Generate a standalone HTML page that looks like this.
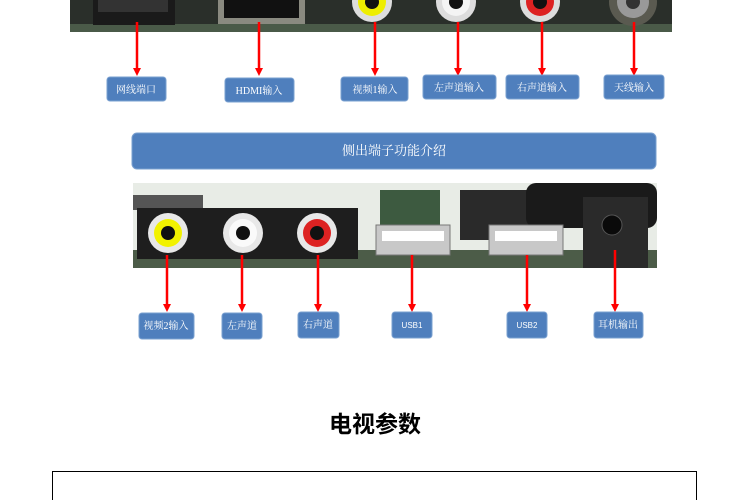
<!DOCTYPE html>
<html><head><meta charset="utf-8"><style>
body{margin:0;background:#fff;}
svg{display:block;}
text{font-family:"Liberation Serif","Noto Serif CJK SC",serif;fill:#fff;font-size:10px;text-anchor:middle;}
</style></head><body>
<svg width="750" height="500" viewBox="0 0 750 500" xmlns="http://www.w3.org/2000/svg">
<defs>
<marker id="ah" markerWidth="8" markerHeight="8" refX="4" refY="4" orient="auto" markerUnits="userSpaceOnUse">
<path d="M0,0 L8,4 L0,8 Z" fill="#f00"/></marker>
</defs>
<rect x="70" y="0" width="602" height="32" fill="#2a2f2a"/>
<rect x="70" y="24" width="602" height="8" fill="#4a5a48"/>
<rect x="93" y="0" width="82" height="25" fill="#1a1a1a"/>
<rect x="98" y="0" width="70" height="12" fill="#333"/>
<rect x="218" y="0" width="87" height="24" fill="#8a8a80"/>
<rect x="224" y="0" width="75" height="18" fill="#111"/>
<circle cx="372" cy="2" r="20" fill="#ddd"/><circle cx="372" cy="2" r="14" fill="#ee0"/><circle cx="372" cy="2" r="7" fill="#111"/>
<circle cx="456" cy="2" r="20" fill="#ddd"/><circle cx="456" cy="2" r="14" fill="#f4f4f4"/><circle cx="456" cy="2" r="7" fill="#111"/>
<circle cx="540" cy="2" r="20" fill="#ddd"/><circle cx="540" cy="2" r="14" fill="#d22"/><circle cx="540" cy="2" r="7" fill="#111"/>
<circle cx="633" cy="2" r="24" fill="#5a5a50"/><circle cx="633" cy="2" r="16" fill="#999"/><circle cx="633" cy="2" r="7" fill="#333"/>
<g stroke="#f00" stroke-width="2.5" marker-end="url(#ah)">
<line x1="137" y1="22" x2="137" y2="72"/><line x1="259" y1="22" x2="259" y2="72"/>
<line x1="375" y1="22" x2="375" y2="72"/><line x1="458" y1="22" x2="458" y2="72"/>
<line x1="542" y1="22" x2="542" y2="72"/><line x1="634" y1="22" x2="634" y2="72"/>
</g>
<g fill="#4f7fbd" stroke="#7aa0d0" stroke-width="1">
<rect x="107" y="77" width="59" height="24" rx="3"/>
<rect x="225" y="78" width="69" height="24" rx="3"/>
<rect x="341" y="77" width="67" height="24" rx="3"/>
<rect x="423" y="75" width="73" height="24" rx="3"/>
<rect x="506" y="75" width="73" height="24" rx="3"/>
<rect x="604" y="75" width="60" height="24" rx="3"/>
</g>
<text x="136" y="93">网线端口</text><text x="259" y="94">HDMI输入</text>
<text x="375" y="93">视频1输入</text><text x="459" y="91">左声道输入</text>
<text x="542" y="91">右声道输入</text><text x="634" y="91">天线输入</text>
<rect x="132" y="133" width="524" height="36" rx="5" fill="#4f7fbd" stroke="#7aa0d0"/>
<text x="394" y="155" style="font-size:13px">侧出端子功能介绍</text>
<rect x="133" y="183" width="524" height="85" fill="#e8ece6"/>
<rect x="133" y="250" width="524" height="18" fill="#4c5c48"/>
<rect x="133" y="195" width="70" height="15" fill="#555"/>
<rect x="380" y="190" width="60" height="35" fill="#3d5a40"/>
<rect x="460" y="190" width="70" height="50" fill="#2a2a2a"/>
<rect x="526" y="183" width="131" height="45" rx="10" fill="#1a1a1a"/>
<rect x="137" y="208" width="221" height="51" fill="#1e1e1e"/>
<circle cx="168" cy="233" r="20" fill="#e8e8e8"/><circle cx="168" cy="233" r="14" fill="#f2f200"/><circle cx="168" cy="233" r="7" fill="#111"/>
<circle cx="243" cy="233" r="20" fill="#e8e8e8"/><circle cx="243" cy="233" r="14" fill="#fafafa"/><circle cx="243" cy="233" r="7" fill="#111"/>
<circle cx="317" cy="233" r="20" fill="#e8e8e8"/><circle cx="317" cy="233" r="14" fill="#d22"/><circle cx="317" cy="233" r="7" fill="#111"/>
<rect x="376" y="225" width="74" height="30" fill="#c8c8c8" stroke="#777"/><rect x="382" y="231" width="62" height="10" fill="#fff"/>
<rect x="489" y="225" width="74" height="30" fill="#c8c8c8" stroke="#777"/><rect x="495" y="231" width="62" height="10" fill="#fff"/>
<rect x="583" y="197" width="65" height="71" fill="#2a2a2a"/><circle cx="612" cy="225" r="10" fill="#0a0a0a" stroke="#555"/>
<g stroke="#f00" stroke-width="2.5" marker-end="url(#ah)">
<line x1="167" y1="255" x2="167" y2="308"/><line x1="242" y1="255" x2="242" y2="308"/>
<line x1="318" y1="255" x2="318" y2="308"/><line x1="412" y1="255" x2="412" y2="308"/>
<line x1="527" y1="255" x2="527" y2="308"/><line x1="615" y1="250" x2="615" y2="308"/>
</g>
<g fill="#4f7fbd" stroke="#7aa0d0">
<rect x="139" y="313" width="55" height="26" rx="3"/>
<rect x="222" y="313" width="40" height="26" rx="3"/>
<rect x="298" y="312" width="41" height="26" rx="3"/>
<rect x="392" y="312" width="40" height="26" rx="3"/>
<rect x="507" y="312" width="40" height="26" rx="3"/>
<rect x="594" y="312" width="49" height="26" rx="3"/>
</g>
<text x="166" y="329">视频2输入</text><text x="242" y="329">左声道</text>
<text x="318" y="328">右声道</text><text x="412" y="328" style="font-family:'Liberation Sans',sans-serif;font-size:8px">USB1</text>
<text x="527" y="328" style="font-family:'Liberation Sans',sans-serif;font-size:8px">USB2</text><text x="618" y="328">耳机输出</text>
<text x="375" y="432" style="fill:#000;font-size:23px;font-weight:bold;font-family:'Liberation Sans','Noto Sans CJK SC',sans-serif">电视参数</text>
<rect x="52.5" y="471.5" width="644" height="40" fill="none" stroke="#000" stroke-width="1"/>
</svg>
</body></html>
